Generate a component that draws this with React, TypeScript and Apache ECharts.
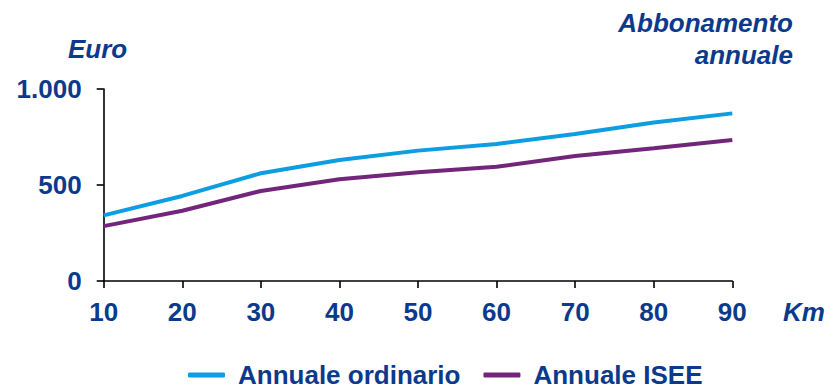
import React, { useEffect, useRef } from "react";
import * as echarts from "echarts";

// Annual pass prices (euro) by distance band (km)
const kmBands = [10, 20, 30, 40, 50, 60, 70, 80, 90];
const annualeOrdinario = [342, 443, 561, 630, 679, 714, 766, 825, 873];
const annualeIsee = [286, 366, 469, 530, 566, 595, 651, 692, 734];
const yTicks = [0, 500, 1000];

const NAVY = "#0b3a8c";
const BLUE = "#0c9ee0";
const PURPLE = "#72257a";
const FONT = "'Liberation Sans', Arial, sans-serif";

// Italian thousands separator: 1000 -> "1.000"
const fmtIt = (v: number) => String(v).replace(/\B(?=(\d{3})+(?!\d))/g, ".");

export default function App() {
  const ref = useRef<HTMLDivElement>(null);

  useEffect(() => {
    if (!ref.current) return;
    const chart = echarts.init(ref.current, null, { renderer: "svg" });
    const labelStyle = {
      color: NAVY,
      fontFamily: FONT,
      fontWeight: "bold" as const,
      fontSize: 26,
    };
    const captionFont = `italic bold 26px ${FONT}`;
    chart.setOption({
      animation: false,
      backgroundColor: "#ffffff",
      grid: { left: 103.7, right: 96.7, top: 89, bottom: 109 },
      xAxis: {
        type: "value",
        min: kmBands[0],
        max: kmBands[kmBands.length - 1],
        interval: 10,
        axisLine: { show: true, lineStyle: { color: "#000", width: 1.6 } },
        axisTick: { show: true, length: 7, lineStyle: { color: "#000", width: 1.6 } },
        axisLabel: { ...labelStyle, margin: 18 },
        splitLine: { show: false },
      },
      yAxis: {
        type: "value",
        min: yTicks[0],
        max: yTicks[yTicks.length - 1],
        interval: yTicks[1] - yTicks[0],
        axisLine: { show: true, lineStyle: { color: "#000", width: 1.6 } },
        axisTick: { show: true, length: 7, lineStyle: { color: "#000", width: 1.6 } },
        axisLabel: { ...labelStyle, margin: 22, formatter: (v: number) => fmtIt(v) },
        splitLine: { show: false },
      },
      legend: {
        left: 183,
        top: 357,
        icon: "roundRect",
        itemWidth: 37,
        itemHeight: 5,
        itemGap: 23,
        textStyle: { ...labelStyle, lineHeight: 24, padding: [0, 0, 0, 8] },
        data: ["Annuale ordinario", "Annuale ISEE"],
      },
      graphic: [
        {
          type: "text",
          x: 68,
          y: 48.5,
          style: {
            text: "Euro",
            align: "left",
            verticalAlign: "middle",
            fill: NAVY,
            font: captionFont,
          },
        },
        {
          type: "text",
          x: 783,
          y: 312,
          style: {
            text: "Km",
            align: "left",
            verticalAlign: "middle",
            fill: NAVY,
            font: captionFont,
          },
        },
        {
          type: "text",
          x: 793,
          y: 7,
          style: {
            text: "Abbonamento\nannuale",
            align: "right",
            verticalAlign: "top",
            fill: NAVY,
            font: captionFont,
            lineHeight: 32,
          },
        },
      ],
      series: [
        {
          name: "Annuale ordinario",
          type: "line",
          data: kmBands.map((k, i) => [k, annualeOrdinario[i]]),
          symbol: "none",
          lineStyle: { color: BLUE, width: 4 },
          itemStyle: { color: BLUE },
        },
        {
          name: "Annuale ISEE",
          type: "line",
          data: kmBands.map((k, i) => [k, annualeIsee[i]]),
          symbol: "none",
          lineStyle: { color: PURPLE, width: 4 },
          itemStyle: { color: PURPLE },
        },
      ],
    });
    return () => chart.dispose();
  }, []);

  return (
    <div
      ref={ref}
      style={{ position: "absolute", left: 0, top: 0, width: 829, height: 390 }}
    />
  );
}
